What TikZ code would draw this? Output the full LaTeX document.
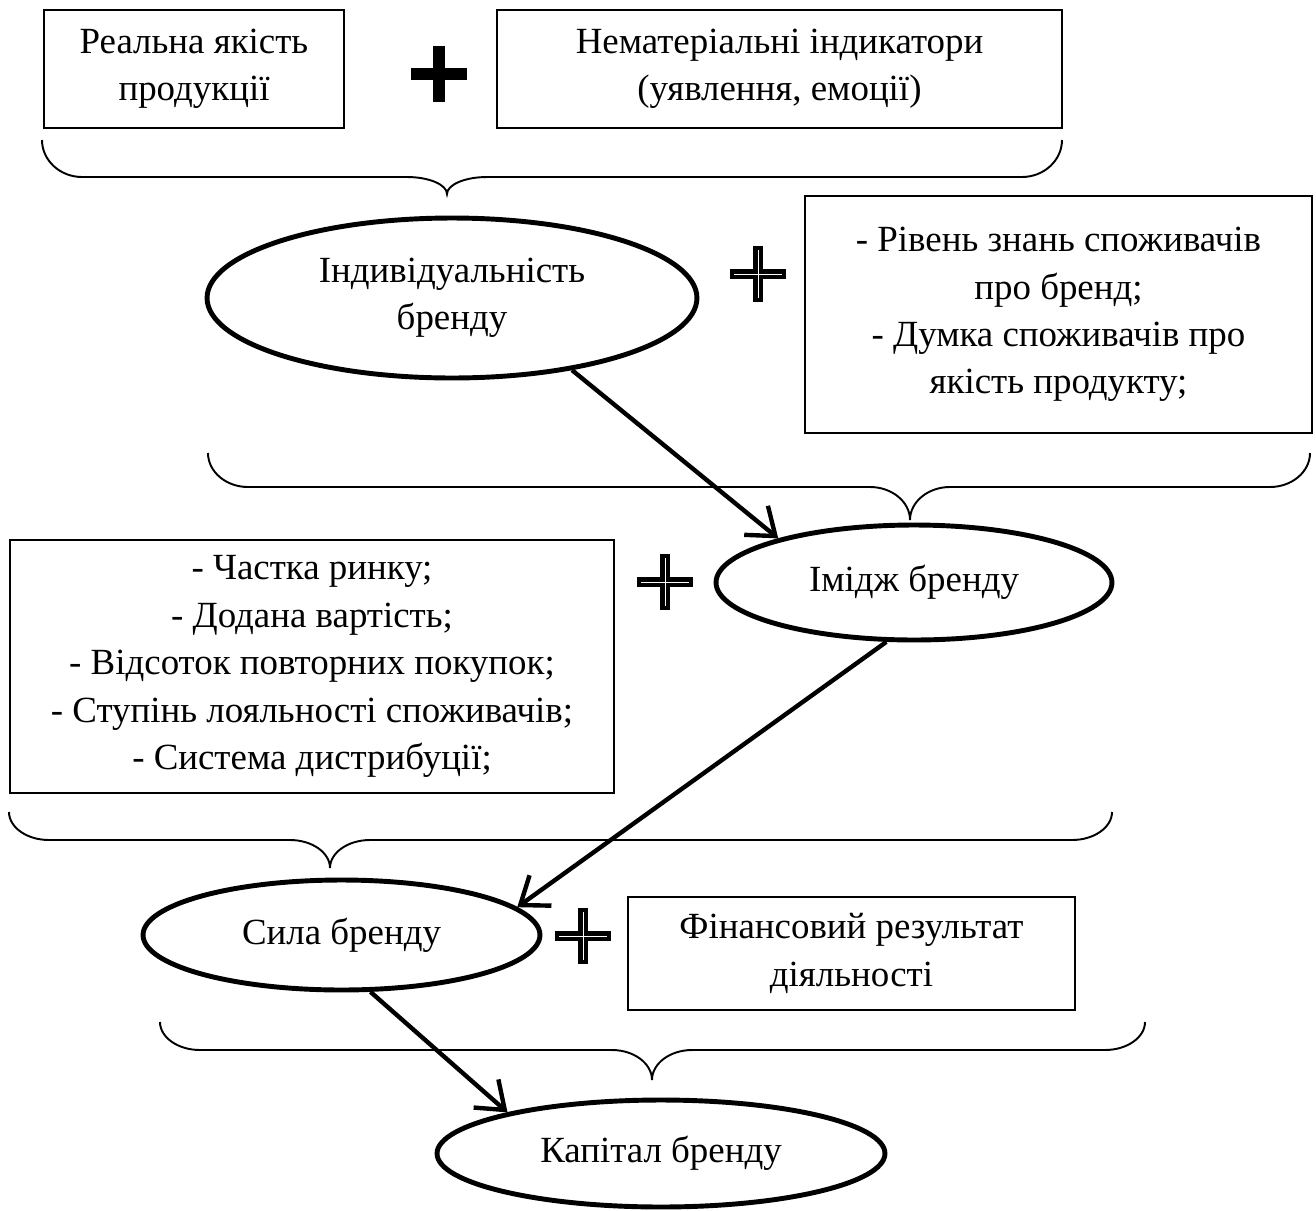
\documentclass[tikz,border=0pt]{standalone}
\usepackage{fontspec}
\setmainfont{Liberation Serif}
\usetikzlibrary{shapes.geometric,arrows.meta}

% brace opening upwards: x1, x2, tip x, top y, line y, tip y
\newcommand{\bracedown}[6]{%
  \draw[brace line] (#1,#4) .. controls (#1,{#4+0.55*(#5-#4)}) and ({#1+18},#5) .. ({#1+40},#5)
    -- ({#3-40},#5) .. controls ({#3-18},#5) and (#3,{#5+0.45*(#6-#5)}) .. (#3,#6)
    .. controls (#3,{#5+0.45*(#6-#5)}) and ({#3+18},#5) .. ({#3+40},#5)
    -- ({#2-40},#5) .. controls ({#2-18},#5) and (#2,{#4+0.55*(#5-#4)}) .. (#2,#4);}

\tikzset{
  solid plus/.pic={\fill (-28,-6) rectangle (28,6); \fill (-6,-28) rectangle (6,28);},
  hollow plus/.pic={\fill (-28,-5) rectangle (28,5); \fill (-5,-28) rectangle (5,28);
    \draw[white, line width=0.5pt] (-24,0) -- (24,0) (0,-24) -- (0,24);}
}

\begin{document}
\begin{tikzpicture}[x=0.02cm, y=-0.02cm,
    every node/.style={font=\fontsize{21}{27}\selectfont, align=center},
    box/.style={draw, line width=1.6pt, inner sep=0pt},
    oval/.style={ellipse, draw, line width=2.8pt, inner sep=0pt},
    link/.style={line width=2.5pt, -{Straight Barb[length=5mm, width=7.5mm]}},
    brace line/.style={line width=1.1pt}]
   \useasboundingbox (0,0) rectangle (1316,1211);

   \node[box, minimum width=6cm, minimum height=2.36cm] (quality) at (194,69) {Реальна якість\\продукції};
   \node[box, minimum width=11.3cm, minimum height=2.36cm] (intangible) at (779.5,69) {Нематеріальні індикатори\\(уявлення, емоції)};
   \node[box, minimum width=10.14cm, minimum height=4.74cm] (knowledge) at (1058.5,314.5) {- Рівень знань споживачів\\про бренд;\\- Думка споживачів про\\якість продукту;};
   \node[box, minimum width=12.08cm, minimum height=5.06cm] (market) at (312,666.5) {- Частка ринку;\\- Додана вартість;\\- Відсоток повторних покупок;\\- Ступінь лояльності споживачів;\\- Система дистрибуції;};
   \node[box, minimum width=8.94cm, minimum height=2.26cm] (finance) at (851.5,953.5) {Фінансовий результат\\діяльності};

   \node[oval, minimum width=9.8cm, minimum height=3.2cm] (identity) at (452,298) {Індивідуальність\\бренду};
   \node[oval, minimum width=7.92cm, minimum height=2.3cm] (image) at (914,582.5) {Імідж бренду};
   \node[oval, minimum width=7.94cm, minimum height=2.2cm] (strength) at (341.5,935) {Сила бренду};
   \node[oval, minimum width=8.96cm, minimum height=2.14cm] (equity) at (661,1153.5) {Капітал бренду};

   \pic at (439,74) {solid plus};
   \pic at (758,274) {hollow plus};
   \pic at (665,582) {hollow plus};
   \pic at (583,936) {hollow plus};

   \bracedown{42}{1062}{447}{140}{177}{194}
   \bracedown{208}{1310}{910}{453}{487}{520}
   \bracedown{9}{1112}{330}{812}{840}{868}
   \bracedown{160}{1145}{652}{1022}{1050}{1080}

   \draw[link] (identity.-31) -- (image.162);
   \draw[link] (image.-115) -- (strength.9);
   \draw[link] (strength.-63) -- (equity.165);
\end{tikzpicture}
\end{document}
